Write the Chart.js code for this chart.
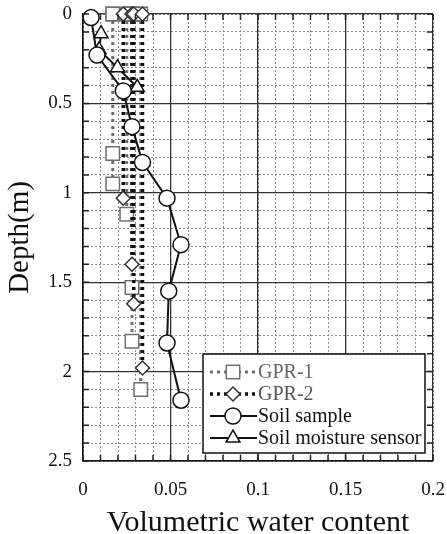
<!DOCTYPE html>
<html><head><meta charset="utf-8">
<script src="https://cdn.jsdelivr.net/npm/chart.js@4"></script>
<style>html,body{margin:0;padding:0;background:#fff}#wrap{width:447px;height:534px;position:relative}</style>
</head><body><div id="wrap"><canvas id="c"></canvas></div>
<script>
// ---- data (volumetric water content vs depth in m) ----
const gpr1Values = [0.017, 0.017, 0.025, 0.028, 0.028, 0.033];
const gpr1Depths = [0.78, 0.95, 1.12, 1.53, 1.83, 2.10];
const gpr2Values = [0.023, 0.028, 0.029, 0.034];
const gpr2Depths = [1.03, 1.40, 1.62, 1.98];
const sampleValues = [0.0046, 0.008, 0.023, 0.028, 0.034, 0.048, 0.056, 0.049, 0.048, 0.056];
const sampleDepths = [0.02, 0.23, 0.43, 0.63, 0.83, 1.03, 1.29, 1.55, 1.84, 2.16];
const sensorValues = [0.0103, 0.0092, 0.0197, 0.031];
const sensorDepths = [0.11, 0.20, 0.30, 0.41];
const seriesLabels = ['GPR-1', 'GPR-2', 'Soil sample', 'Soil moisture sensor'];
const xTicks = [0, 0.05, 0.1, 0.15, 0.2];
const xTickLabels = ['0', '0.05', '0.1', '0.15', '0.2'];
const yTicks = [0, 0.5, 1, 1.5, 2, 2.5];
const yTickLabels = ['0', '0.5', '1', '1.5', '2', '2.5'];

// GPR estimates: vertical profile from surface to each estimate depth
function profile(vals, deps) {
  const out = [];
  vals.forEach((v, i) => { out.push({x: v, y: 0}); out.push({x: v, y: deps[i]}); out.push({x: v, y: null}); });
  return out;
}
function pairs(vals, deps) { return vals.map((v, i) => ({x: v, y: deps[i]})); }

const FONT = "'Liberation Serif', 'DejaVu Serif', serif";

const tickPlugin = {
  id: 'innerTicks',
  afterDatasetsDraw(chart) {
    const {ctx, chartArea: ca} = chart;
    const xs = chart.scales.xMinor, ys = chart.scales.yMinor;
    ctx.save();
    ctx.strokeStyle = '#222'; ctx.lineWidth = 1.5;
    ctx.beginPath();
    xs.ticks.forEach(t => {
      const px = xs.getPixelForValue(t.value);
      ctx.moveTo(px, ca.bottom); ctx.lineTo(px, ca.bottom - 6);
      ctx.moveTo(px, ca.top); ctx.lineTo(px, ca.top + 6);
    });
    ys.ticks.forEach(t => {
      const py = ys.getPixelForValue(t.value);
      ctx.moveTo(ca.left, py); ctx.lineTo(ca.left + 6, py);
      ctx.moveTo(ca.right, py); ctx.lineTo(ca.right - 6, py);
    });
    ctx.stroke();
    ctx.restore();
  }
};

const legendPlugin = {
  id: 'boxLegend',
  afterDraw(chart) {
    const {ctx, chartArea: ca} = chart;
    const bx = ca.left + 120, by = ca.top + 340, bw = ca.right - 8 - bx, bh = 99;
    ctx.save();
    ctx.fillStyle = '#fff';
    ctx.fillRect(bx, by, bw, bh);
    ctx.strokeStyle = '#111'; ctx.lineWidth = 1.5;
    ctx.strokeRect(bx, by, bw, bh);
    const rows = [18, 40, 62, 84];
    const textColors = ['#666', '#555', '#111', '#111'];
    chart.data.datasets.forEach((ds, i) => {
      const y = by + rows[i];
      ctx.save();
      ctx.strokeStyle = ds.borderColor; ctx.lineWidth = ds.borderWidth;
      ctx.setLineDash(ds.borderDash || []);
      ctx.beginPath(); ctx.moveTo(bx + 7, y); ctx.lineTo(bx + 54, y); ctx.stroke();
      ctx.restore();
      ctx.save();
      ctx.fillStyle = '#fff'; ctx.strokeStyle = ds.pointBorderColor; ctx.lineWidth = ds.pointBorderWidth;
      Chart.helpers.drawPoint(ctx, {pointStyle: ds.pointStyle, radius: ds.pointRadius, borderWidth: ds.pointBorderWidth, rotation: 0}, bx + 30, y);
      ctx.restore();
      ctx.fillStyle = textColors[i];
      ctx.font = '20px ' + FONT;
      ctx.textBaseline = 'middle';
      ctx.fillText(ds.label, bx + 55, y + 1);
    });
    ctx.restore();
  }
};

const datasets = [
  {label: seriesLabels[0], data: profile(gpr1Values, gpr1Depths), showLine: true, spanGaps: false, clip: false,
   borderColor: '#6e6e6e', borderWidth: 3, borderDash: [3, 4],
   pointStyle: 'rect', pointRadius: 9.5, pointBorderColor: '#707070', pointBackgroundColor: '#fff', pointBorderWidth: 1.5, order: 4},
  {label: seriesLabels[1], data: profile(gpr2Values, gpr2Depths), showLine: true, spanGaps: false, clip: false,
   borderColor: '#111', borderWidth: 3.5, borderDash: [3, 4],
   pointStyle: 'rectRot', pointRadius: 7, pointBorderColor: '#333', pointBackgroundColor: '#fff', pointBorderWidth: 1.5, order: 3},
  {label: seriesLabels[2], data: pairs(sampleValues, sampleDepths), showLine: true, clip: false,
   borderColor: '#111', borderWidth: 2,
   pointStyle: 'circle', pointRadius: 8, pointBorderColor: '#111', pointBackgroundColor: '#fff', pointBorderWidth: 1.5, order: 1},
  {label: seriesLabels[3], data: pairs(sensorValues, sensorDepths), showLine: true, clip: false,
   borderColor: '#111', borderWidth: 2,
   pointStyle: 'triangle', pointRadius: 8, pointBorderColor: '#111', pointBackgroundColor: '#fff', pointBorderWidth: 1.5, order: 2}
];

new Chart(document.getElementById('c'), {
  type: 'scatter',
  data: {datasets},
  options: {
    responsive: true, maintainAspectRatio: false, animation: false,
    layout: {padding: {top: 14, right: 14, bottom: 0, left: 0}},
    plugins: {legend: {display: false}, tooltip: {enabled: false}},
    scales: {
      x: {type: 'linear', position: 'bottom', min: 0, max: 0.2,
        afterBuildTicks: s => { s.ticks = xTicks.map(v => ({value: v})); },
        afterFit: s => { s.height = 73; s.paddingLeft = 0; s.paddingRight = 0; },
        ticks: {callback: (v, i) => xTickLabels[i], font: {family: FONT, size: 19}, color: '#111', padding: 18, maxRotation: 0},
        grid: {color: '#333', lineWidth: 1.3, drawTicks: false},
        border: {display: true, color: '#111', width: 1.5},
        title: {display: true, text: 'Volumetric water content', font: {family: FONT, size: 30, lineHeight: 1}, color: '#111', padding: {top: 0, bottom: -4}}},
      y: {type: 'linear', position: 'left', reverse: true, min: 0, max: 2.5,
        afterBuildTicks: s => { s.ticks = yTicks.map(v => ({value: v})); },
        afterFit: s => { s.width = 83; s.paddingTop = 0; s.paddingBottom = 0; },
        ticks: {callback: (v, i) => yTickLabels[i], font: {family: FONT, size: 19}, color: '#111', padding: 11},
        grid: {color: '#333', lineWidth: 1.3, drawTicks: false},
        border: {display: true, color: '#111', width: 1.5},
        title: {display: true, text: 'Depth(m)', font: {family: FONT, size: 29, lineHeight: 1}, color: '#111', padding: {top: 6, bottom: 0}}},
      xMinor: {type: 'linear', position: 'top', min: 0, max: 0.2,
        afterFit: s => { s.height = 0; s.paddingLeft = 0; s.paddingRight = 0; },
        ticks: {display: false, stepSize: 0.01},
        grid: {color: '#8c8c8c', lineWidth: 1, drawTicks: false, z: -2},
        border: {display: false, dash: [2, 2]}},
      yMinor: {type: 'linear', position: 'right', reverse: true, min: 0, max: 2.5,
        afterFit: s => { s.width = 0; s.paddingTop = 0; s.paddingBottom = 0; },
        ticks: {display: false, stepSize: 0.1},
        grid: {color: '#8c8c8c', lineWidth: 1, drawTicks: false, z: -2},
        border: {display: false, dash: [2, 2]}}
    }
  },
  plugins: [tickPlugin, legendPlugin]
});
</script>
</body></html>
